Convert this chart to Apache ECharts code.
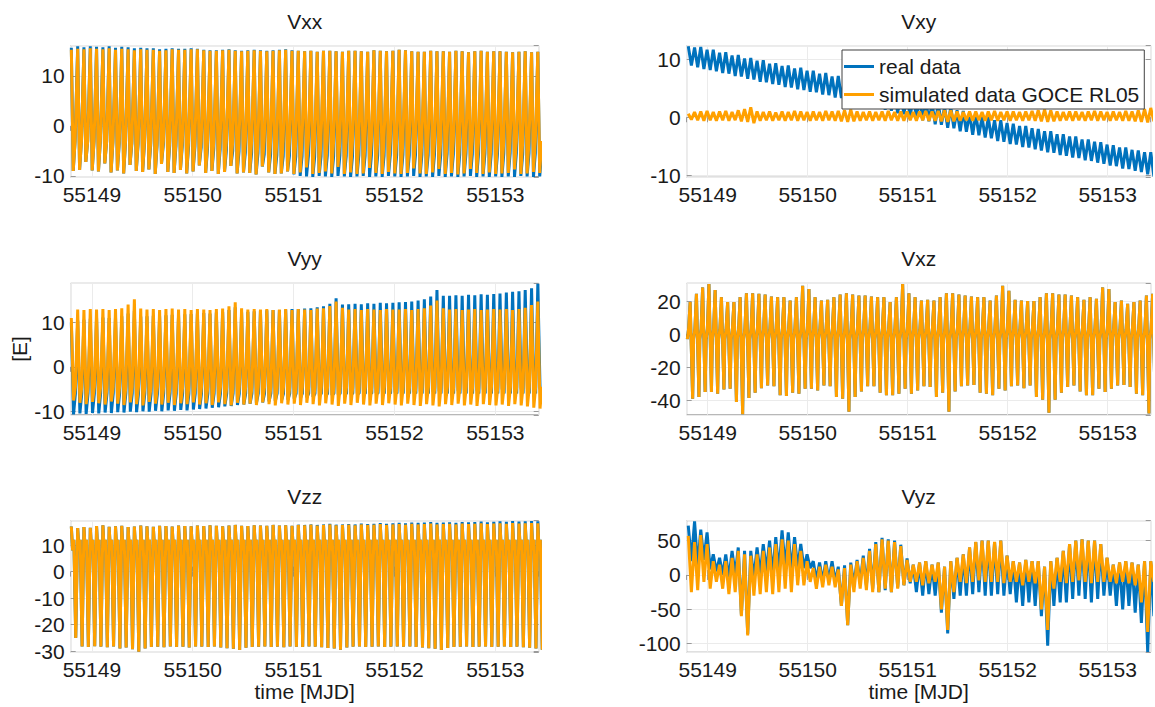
<!DOCTYPE html>
<html><head><meta charset="utf-8">
<script src="https://cdn.jsdelivr.net/npm/echarts@6/dist/echarts.min.js"></script>
<style>html,body{margin:0;padding:0;background:#fff}#c{width:1155px;height:707px}</style>
</head><body><div id="c"></div>
<script>
// ---- cycle start times (MJD), one GOCE orbit per cycle ----
const cycleT = [
 55148.790,55148.853,55148.915,55148.978,
 55149.040,55149.103,55149.165,55149.228,55149.290,55149.353,55149.415,55149.478,55149.540,55149.603,55149.665,55149.728,55149.790,55149.853,55149.915,55149.978,
 55150.040,55150.103,55150.165,55150.228,55150.290,55150.353,55150.415,55150.478,55150.540,55150.603,55150.665,55150.728,55150.790,55150.853,55150.915,55150.978,
 55151.040,55151.103,55151.165,55151.228,55151.290,55151.353,55151.415,55151.478,55151.540,55151.603,55151.665,55151.728,55151.790,55151.853,55151.915,55151.978,
 55152.040,55152.103,55152.165,55152.228,55152.290,55152.353,55152.415,55152.478,55152.540,55152.603,55152.665,55152.728,55152.790,55152.853,55152.915,55152.978,
 55153.040,55153.103,55153.165,55153.228,55153.290,55153.353,55153.415];
const PERIOD = 0.0625;

// ---- Vxx ----
const bxxHi = [15.6,15.9,15.7,15.9,
 15.8,15.7,15.9,15.6,15.8,15.7,15.5,15.6,15.5,15.5,15.3,15.4,15.5,15.4,15.4,15.5,
 15.4,15.2,15.1,15.1,15.2,15.3,15.1,15.0,15.1,15.2,15.1,15.0,15.1,15.2,15.3,15.1,
 15.0,14.9,15.0,14.8,15.0,15.0,14.9,14.8,15.0,15.0,14.9,14.8,15.1,15.0,14.9,15.0,
 15.2,15.1,14.9,14.8,14.8,15.0,14.9,14.9,14.8,15.0,14.9,14.7,14.9,15.0,14.8,14.9,
 14.9,14.8,14.7,14.8,14.9,14.7,14.8];
const bxxLo = [-9.0,-8.8,-7.2,-8.9,
 -9.1,-7.5,-9.3,-8.9,-9.5,-7.8,-9.0,-9.2,-8.7,-9.6,-7.6,-9.2,-9.4,-8.8,-9.5,-9.1,
 -7.9,-9.4,-9.0,-9.6,-9.2,-8.0,-9.5,-9.3,-9.4,-9.7,-8.1,-9.3,-9.6,-9.5,-9.1,-9.7,
 -10.0,-10.1,-10.2,-10.0,-10.1,-10.2,-10.0,-10.1,-10.2,-10.1,-10.0,-10.2,-10.1,-10.2,-10.0,-10.1,
 -10.2,-10.1,-10.0,-10.2,-10.1,-10.2,-10.0,-10.2,-10.1,-10.2,-10.1,-10.0,-10.2,-10.1,-10.2,-10.1,
 -10.2,-10.1,-10.2,-10.0,-10.1,-10.2,-10.1];
const bxxMid = [-3.0,-3.0,-3.0,-3.1,
 -3.2,-3.1,-3.3,-3.4,-3.3,-3.5,-3.6,-3.5,-3.7,-3.8,-3.7,-3.9,-4.0,-3.9,-4.1,-4.2,
 -4.3,-4.5,-4.6,-4.7,-4.9,-5.0,-5.1,-5.3,-5.4,-5.5,-5.7,-5.8,-5.9,-6.1,-6.0,-6.1,
 -6.1,-6.0,-6.2,-6.1,-6.0,-6.1,-5.9,-6.0,-6.1,-5.9,-6.0,-5.8,-5.9,-6.0,-5.8,-5.9,
 -5.8,-5.9,-5.7,-5.8,-5.9,-5.7,-5.8,-5.6,-5.7,-5.8,-5.6,-5.7,-5.5,-5.6,-5.7,-5.5,
 -5.6,-5.5,-5.4,-5.6,-5.5,-5.4,-5.5];
const oxxHi = [15.2,15.4,15.3,15.5,
 15.4,15.3,15.5,15.2,15.4,15.3,15.1,15.3,15.2,15.2,15.0,15.1,15.3,15.2,15.2,15.3,
 15.3,15.1,15.0,15.0,15.1,15.2,15.0,14.9,15.0,15.1,15.0,14.9,15.0,15.1,15.2,15.0,
 15.0,14.9,15.0,14.8,15.0,15.0,14.9,14.8,15.0,15.0,14.9,14.8,15.1,15.0,14.9,15.0,
 15.2,15.1,14.9,14.8,14.8,15.0,14.9,14.9,14.8,15.0,14.9,14.7,14.9,15.0,14.8,14.9,
 14.9,14.8,14.7,14.8,14.9,14.7,14.8];
const oxxLo = [-9.0,-8.8,-7.2,-8.9,
 -9.1,-7.5,-9.3,-8.9,-9.5,-7.8,-9.0,-9.2,-8.7,-9.6,-7.6,-9.2,-9.4,-8.8,-9.5,-9.1,
 -7.9,-9.4,-9.0,-9.6,-9.2,-8.0,-9.5,-9.3,-9.4,-9.7,-8.1,-9.3,-9.6,-9.5,-9.1,-9.6,
 -9.3,-8.3,-9.6,-9.4,-9.1,-9.5,-8.2,-9.6,-9.3,-9.6,-9.5,-8.4,-9.4,-9.6,-9.2,-9.5,
 -9.6,-9.4,-8.5,-9.5,-9.6,-9.3,-8.6,-9.6,-9.4,-9.7,-9.5,-8.6,-9.4,-9.6,-9.3,-9.6,
 -9.5,-9.4,-8.7,-9.6,-9.5,-9.2,-9.4];
const oxxMid = -3;

// ---- Vxy ----
const bxyHi = [12.2,12.0,12.1,11.6,
 11.6,11.1,11.2,10.6,10.7,10.1,10.2,9.7,9.8,9.2,9.3,8.8,8.9,8.4,8.5,8.0,
 8.0,7.5,7.6,7.0,7.1,6.6,6.6,6.1,6.1,5.5,5.5,4.9,4.9,4.3,4.3,3.7,
 3.7,3.1,3.1,2.4,2.4,1.8,1.8,1.2,1.1,0.6,0.6,0.0,0.0,-0.5,-0.5,-1.0,
 -1.1,-1.5,-1.5,-1.9,-2.0,-2.4,-2.4,-2.9,-2.9,-3.3,-3.3,-3.8,-3.8,-4.2,-4.3,-4.7,
 -4.8,-5.2,-5.2,-5.6,-5.7,-6.0,-6.0];
const bxyLo = [8.9,8.6,8.3,8.1,
 7.9,7.6,7.5,7.1,7.0,6.6,6.5,6.1,6.0,5.7,5.6,5.2,5.1,4.8,4.7,4.4,
 4.3,3.9,3.8,3.4,3.3,2.9,2.8,2.4,2.3,1.9,1.7,1.3,1.1,0.7,0.5,0.1,
 -0.1,-0.5,-0.7,-1.2,-1.3,-1.8,-1.9,-2.4,-2.5,-3.0,-3.1,-3.5,-3.6,-4.1,-4.2,-4.6,
 -4.7,-5.1,-5.2,-5.5,-5.7,-6.0,-6.1,-6.5,-6.6,-6.9,-7.0,-7.4,-7.5,-7.8,-8.0,-8.3,
 -8.4,-8.8,-8.9,-9.2,-9.4,-9.8,-10.2];
const oxyHi = [0.6,0.9,1.0,1.1,
 0.9,1.0,1.1,0.9,1.2,1.4,1.7,1.0,0.9,1.0,0.8,1.0,0.9,1.1,1.0,0.9,
 1.0,0.9,1.1,1.0,1.1,1.2,1.3,1.0,0.9,1.0,0.9,1.0,1.1,0.9,1.0,1.0,
 0.9,1.0,1.1,1.0,1.1,1.2,1.2,1.0,0.9,1.0,1.0,0.9,1.0,1.1,0.9,1.0,
 1.0,0.9,1.0,1.1,1.2,1.3,1.2,1.0,0.9,1.0,1.0,0.9,1.0,1.1,1.0,0.9,
 1.0,0.9,1.1,1.0,1.2,1.4,1.6];
const oxyLo = [-0.4,-0.5,-0.6,-0.5,
 -0.6,-0.5,-0.6,-0.5,-0.7,-0.8,-1.0,-0.6,-0.5,-0.6,-0.5,-0.6,-0.5,-0.6,-0.5,-0.6,
 -0.5,-0.6,-0.5,-0.6,-0.7,-0.8,-0.7,-0.6,-0.5,-0.6,-0.5,-0.6,-0.5,-0.6,-0.6,-0.5,
 -0.6,-0.5,-0.6,-0.6,-0.7,-0.8,-0.7,-0.6,-0.5,-0.6,-0.5,-0.6,-0.5,-0.6,-0.5,-0.6,
 -0.5,-0.6,-0.5,-0.6,-0.7,-0.8,-0.7,-0.6,-0.5,-0.6,-0.5,-0.6,-0.5,-0.6,-0.5,-0.6,
 -0.5,-0.6,-0.6,-0.7,-0.8,-0.9,-0.7];

// ---- Vyy ----
const byyHi = [10.0,10.4,10.6,10.8,
 11.0,11.1,11.0,11.2,11.4,12.0,12.6,11.3,11.4,11.5,11.4,11.6,11.7,11.6,11.8,11.9,
 12.0,12.1,12.0,12.2,12.4,12.8,13.4,12.3,12.4,12.5,12.6,12.7,12.8,12.8,12.9,13.0,
 13.0,13.1,13.2,13.4,13.6,14.2,15.4,14.0,14.1,14.2,14.1,14.3,14.2,14.4,14.3,14.4,
 14.5,14.6,14.7,14.9,15.2,15.8,17.3,16.0,16.0,16.1,16.0,16.2,16.1,16.3,16.2,16.4,
 16.5,16.7,16.9,17.0,17.3,17.7,18.7];
const byyLo = [-10.7,-10.5,-10.6,-10.4,
 -10.5,-10.3,-10.4,-10.2,-10.3,-10.1,-10.2,-10.0,-10.1,-9.9,-10.0,-9.8,-9.9,-9.7,-9.8,-9.6,
 -9.5,-9.4,-9.2,-9.1,-8.9,-8.8,-8.6,-8.5,-8.3,-8.2,-8.0,-7.8,-7.7,-7.5,-7.4,-7.2,
 -7.0,-6.9,-6.8,-6.6,-6.5,-6.4,-6.3,-6.2,-6.1,-6.0,-6.0,-5.9,-5.9,-5.8,-5.8,-5.7,
 -5.7,-5.6,-5.6,-5.5,-5.5,-5.4,-5.4,-5.3,-5.3,-5.3,-5.2,-5.2,-5.2,-5.1,-5.1,-5.1,
 -5.0,-5.0,-5.0,-4.9,-4.9,-4.8,-4.8];
const byyMid = -6;
const oyyHi = [11.0,12.9,12.8,13.0,
 12.9,13.0,12.8,13.0,13.2,14.0,15.2,13.1,12.9,13.0,12.8,13.0,13.1,12.9,13.0,12.8,
 13.0,12.9,12.8,13.0,13.1,13.6,14.5,13.2,12.9,13.0,12.9,13.0,12.8,12.9,13.0,12.8,
 13.0,12.9,12.8,13.1,13.2,13.7,14.7,13.3,12.9,13.0,12.8,13.0,12.9,12.8,13.0,12.9,
 12.9,13.0,12.8,13.0,13.2,13.8,14.9,13.2,12.9,13.0,12.8,12.9,13.0,12.8,12.9,13.0,
 12.9,13.0,12.8,13.0,13.3,13.9,14.7];
const oyyLo = [-7.6,-8.1,-8.4,-7.9,
 -8.2,-8.5,-7.8,-8.3,-8.6,-8.0,-8.4,-8.7,-7.9,-8.3,-8.5,-8.1,-8.6,-8.2,-8.4,-8.0,
 -8.5,-8.2,-8.6,-8.0,-8.4,-8.7,-8.1,-8.5,-8.3,-8.6,-8.0,-8.4,-8.7,-8.2,-8.5,-8.3,
 -8.6,-8.1,-8.4,-8.7,-8.2,-8.5,-8.8,-8.3,-8.6,-8.1,-8.5,-8.7,-8.3,-8.6,-8.2,-8.5,
 -8.7,-8.3,-8.6,-8.8,-8.4,-8.7,-8.9,-8.4,-8.6,-8.3,-8.7,-8.5,-8.8,-8.4,-8.6,-8.7,
 -8.5,-8.8,-8.4,-8.7,-8.9,-9.2,-9.4];
const oyyMid = -4.5;

// ---- Vxz (real data lies under the simulated curve) ----
const oxzHi = [19.4,24.4,28.3,30.3,26.7,22.4,19.4,19.4,22.4,24.8,24.8,24.4,24.0,22.8,22.4,22.4,20.4,22.4,29.3,27.3,
 22.4,20.4,20.8,22.4,24.0,24.8,24.0,23.4,23.4,22.8,22.4,22.4,19.4,22.4,30.3,24.8,22.4,20.4,20.8,20.4,
 22.4,24.8,24.8,24.0,23.4,22.8,22.4,22.4,20.4,23.4,29.3,26.3,20.8,20.4,20.0,20.0,22.4,24.8,24.8,24.0,
 24.0,23.4,22.4,20.8,22.4,21.4,28.3,27.3,19.4,20.4,18.4,19.4,20.4,23.4,24.4];
const oxzLo = [-39,-38,-35,-35,-36,-33.5,-33,-41,-48.5,-38.6,-35.4,-32.7,-31,-31.5,-37,-37.4,-35.4,-36,-33,-33,
 -34,-31,-31.5,-38,-39,-47,-38,-34.7,-31.5,-31.5,-35.4,-37,-37,-36,-33,-36,-34,-31.5,-32,-38,
 -35.4,-47,-34.7,-31.5,-31,-30.7,-35.4,-36,-37,-33,-34,-31.5,-31,-32.7,-31,-38,-39.6,-47.5,-39.6,-35.4,
 -32,-31,-34.7,-37,-37,-33,-35,-33,-31,-30.7,-32,-36,-37,-48,-40];
const xzNeg = -3, xzPos = 3;

// ---- Vzz ----
const bzzHi = [17.0,16.4,16.8,16.5,
 17.2,17.5,16.9,17.1,17.3,16.8,17.0,17.4,17.1,16.9,17.3,17.2,17.0,17.4,17.2,17.1,
 17.4,17.2,17.5,17.3,17.1,17.4,17.6,17.3,17.2,17.5,17.4,17.3,17.6,17.4,17.5,17.3,
 17.7,17.6,17.8,17.6,17.8,18.0,17.7,17.8,17.9,17.8,18.1,17.9,18.0,18.3,18.0,18.2,
 18.4,18.2,18.5,18.4,18.5,18.7,18.4,18.5,18.6,18.4,18.7,18.6,18.7,18.9,18.6,18.8,
 19.0,18.8,19.1,18.9,19.0,19.1,19.0];
const ozzHi = [17.0,16.4,16.8,16.5,
 17.2,17.5,16.9,17.1,17.3,16.8,17.0,17.4,17.1,16.9,17.3,17.2,17.0,17.4,17.2,17.1,
 17.4,17.2,17.5,17.3,17.1,17.4,17.6,17.3,17.2,17.5,17.4,17.3,17.6,17.4,17.5,17.3,
 17.6,17.5,17.7,17.4,17.6,17.8,17.5,17.6,17.7,17.5,17.8,17.6,17.7,17.9,17.6,17.8,
 17.9,17.7,18.0,17.8,17.9,18.1,17.8,17.9,18.0,17.8,18.1,17.9,18.0,18.2,17.9,18.1,
 18.2,18.0,18.3,18.1,18.2,18.3,18.2];
const ozzLo = [-25.0,-28.2,-28.4,-28.1,
 -28.3,-28.5,-28.2,-29.0,-28.6,-29.3,-30.2,-29.0,-28.4,-28.3,-28.5,-28.2,-28.4,-28.3,-28.6,-28.2,
 -28.3,-28.4,-28.2,-28.6,-28.9,-29.1,-29.6,-28.7,-28.4,-28.3,-28.2,-28.4,-28.3,-28.5,-28.2,-28.3,
 -28.4,-28.2,-28.3,-28.5,-28.8,-29.0,-29.5,-28.6,-28.3,-28.2,-28.4,-28.3,-28.2,-28.4,-28.3,-28.2,
 -28.3,-28.2,-28.4,-28.6,-28.9,-29.1,-29.6,-28.8,-28.4,-28.3,-28.2,-28.4,-28.3,-28.2,-28.4,-28.3,
 -28.2,-28.4,-28.3,-28.5,-28.7,-29.0,-29.5];
const zzLow = 8, zzNotch = 12;

// ---- Vyz ----
const byzHi = [72,78,66,62,
 30,25,30,35,40,35,35,40,45,50,55,65,62,55,45,30,
 20,18,20,20,12,14,18,22,28,38,48,54,52,50,44,24,
 15,18,20,15,18,12,20,25,30,40,48,50,50,48,50,28,
 20,18,22,20,20,12,20,25,35,45,50,52,50,50,45,25,
 15,18,20,18,15,20,20];
const byzLo = [20,12,22,8,
 5,0,-5,0,-58,-86,-5,0,5,0,5,10,5,10,10,10,
 -8,-10,-8,-10,-45,-73,-15,-12,-15,-20,-25,-22,-25,-18,-15,-12,
 -25,-30,-28,-30,-55,-85,-35,-30,-30,-28,-25,-30,-30,-28,-30,-28,
 -40,-45,-40,-45,-60,-103,-45,-40,-40,-35,-30,-35,-40,-35,-30,-30,
 -45,-50,-45,-55,-70,-112,-60];
const oyzHi = [57,48,58,45,
 20,15,20,25,35,30,28,30,35,40,45,52,50,45,35,20,
 10,12,15,12,8,10,15,20,25,35,45,52,50,48,42,22,
 15,18,20,15,18,12,20,25,30,40,48,50,50,48,50,28,
 20,18,22,20,20,12,20,25,35,45,50,52,50,50,45,25,
 15,18,20,18,15,20,20];
const oyzLo = [-25,-22,-10,-20,
 -10,-20,-28,-25,-60,-88,-30,-28,-25,-28,-25,-20,-25,-15,-15,-10,
 -20,-18,-15,-18,-45,-73,-25,-20,-22,-25,-25,-20,-25,-20,-15,-10,
 -10,-15,-12,-10,-50,-80,-25,-10,-12,-10,-8,-10,-10,-10,-12,-10,
 -10,-15,-10,-12,-50,-80,-20,-10,-12,-10,-8,-10,-12,-10,-10,-10,
 -12,-10,-12,-15,-40,-83,-10];

// ---- build polylines through each orbit from the read extrema ----
function build(shape, src) {
  const out = [];
  for (let i = 0; i < cycleT.length; i++) {
    for (const [ph, key] of shape) {
      const v = src[key];
      out.push([cycleT[i] + ph * PERIOD, Array.isArray(v) ? v[i] : v]);
    }
  }
  return out;
}
const shpXX = [[0.1,'hi'],[0.4,'lo'],[0.7,'mid']];
const shp2 = [[0.25,'hi'],[0.75,'lo']];
const shpYY = [[0.1,'hi'],[0.45,'lo'],[0.75,'mid']];
const shpXZ = [[0.1,'a'],[0.3,'b'],[0.55,'hi'],[0.95,'lo']];
const shpZZ = [[0.1,'hi'],[0.3,'a'],[0.5,'b'],[0.8,'lo']];

const panels = [
  {t:'Vxx', c:0, r:0, ymin:-10.25, ymax:16, yi:10,
   b: build(shpXX,{hi:bxxHi,lo:bxxLo,mid:bxxMid}), o: build(shpXX,{hi:oxxHi,lo:oxxLo,mid:oxxMid})},
  {t:'Vxy', c:1, r:0, ymin:-10.3, ymax:12.3, yi:10,
   b: build(shp2,{hi:bxyHi,lo:bxyLo}), o: build(shp2,{hi:oxyHi,lo:oxyLo})},
  {t:'Vyy', c:0, r:1, ymin:-10.8, ymax:18.8, yi:10,
   b: build(shpYY,{hi:byyHi,lo:byyLo,mid:byyMid}), o: build(shpYY,{hi:oyyHi,lo:oyyLo,mid:oyyMid})},
  {t:'Vxz', c:1, r:1, ymin:-48.8, ymax:30.8, yi:20,
   b: build(shpXZ,{hi:oxzHi,lo:oxzLo,a:xzNeg,b:xzPos}), o: build(shpXZ,{hi:oxzHi,lo:oxzLo,a:xzNeg,b:xzPos})},
  {t:'Vzz', c:0, r:2, ymin:-30.4, ymax:19.2, yi:10,
   b: build(shpZZ,{hi:bzzHi,lo:ozzLo,a:zzLow,b:zzNotch}), o: build(shpZZ,{hi:ozzHi,lo:ozzLo,a:zzLow,b:zzNotch})},
  {t:'Vyz', c:1, r:2, ymin:-112.5, ymax:79, yi:50,
   b: build(shp2,{hi:byzHi,lo:byzLo}), o: build(shp2,{hi:oyzHi,lo:oyzLo})}
];

const FONT = 'Liberation Sans, Arial, Helvetica, sans-serif';
const TXT = '#1a1a1a';
const BOX = '#9a9a9a';
const BLUE = '#0072BD', ORANGE = '#FFA000';
const LW = 3;
const colL = [70.7, 686.7], colW = [468, 464], rowT = [45.7, 283.3, 520.7], H = 131.5;
const XMIN = 55148.79, XMAX = 55153.43;

const grid = [], xAxis = [], yAxis = [], series = [], title = [];
panels.forEach((p, k) => {
  const left = colL[p.c], top = rowT[p.r], w = colW[p.c];
  grid.push({left, top, width: w, height: H, show: true, borderColor: BOX, borderWidth: 1,
             containLabel: false, outerBoundsMode: 'none'});
  const xBase = {type:'value', gridIndex:k, min:XMIN, max:XMAX, minInterval:1, maxInterval:1};
  xAxis.push(Object.assign({}, xBase, {position:'bottom',
    axisLine:{show:false}, axisTick:{inside:true, length:5, lineStyle:{color:BOX}},
    axisLabel:{showMinLabel:false, showMaxLabel:false, margin:7, fontSize:21, color:TXT, fontFamily:FONT,
               formatter: v => String(Math.round(v))},
    splitLine:{show:true, lineStyle:{color:'#ebebeb', width:1}},
    name: p.r === 2 ? 'time [MJD]' : '', nameLocation:'middle', nameGap:26,
    nameTextStyle:{fontSize:21, color:TXT, fontFamily:FONT}}));
  xAxis.push(Object.assign({}, xBase, {position:'top',
    axisLine:{show:false}, axisTick:{inside:true, length:5, lineStyle:{color:BOX}},
    axisLabel:{show:false}, splitLine:{show:false}}));
  const yBase = {type:'value', gridIndex:k, min:p.ymin, max:p.ymax, minInterval:p.yi, maxInterval:p.yi};
  yAxis.push(Object.assign({}, yBase, {position:'left',
    axisLine:{show:false}, axisTick:{inside:true, length:5, lineStyle:{color:BOX}},
    axisLabel:{showMinLabel:false, showMaxLabel:false, margin:6, fontSize:21, color:TXT, fontFamily:FONT,
               formatter: v => String(Math.round(v))},
    splitLine:{show:true, lineStyle:{color:'#ebebeb', width:1}}}));
  yAxis.push(Object.assign({}, yBase, {position:'right',
    axisLine:{show:false}, axisTick:{inside:true, length:5, lineStyle:{color:BOX}},
    axisLabel:{show:false}, splitLine:{show:false}}));
  const common = {type:'line', xAxisIndex:2*k, yAxisIndex:2*k, showSymbol:false, symbol:'none',
                  clip:true, animation:false, silent:true};
  series.push(Object.assign({}, common, {name:'real data', data:p.b, color:BLUE,
                 lineStyle:{color:BLUE, width:LW}, z:2}));
  series.push(Object.assign({}, common, {name:'simulated data GOCE RL05', data:p.o, color:ORANGE,
                 lineStyle:{color:ORANGE, width:LW}, z:3}));
  title.push({text:p.t, left: left + w/2, top: top - 35, textAlign:'center', padding:0,
              textStyle:{fontSize:21, fontWeight:'normal', color:TXT, fontFamily:FONT}});
});

const chart = echarts.init(document.getElementById('c'), null, {renderer:'svg'});
chart.setOption({
  animation:false,
  backgroundColor:'#ffffff',
  textStyle:{fontFamily:FONT},
  title, grid, xAxis, yAxis, series,
  legend:{data:['real data','simulated data GOCE RL05'], orient:'vertical', left:842, top:50,
          icon:'rect', itemWidth:30, itemHeight:3, itemGap:7, padding:[6,5,4,2],
          backgroundColor:'#ffffff', borderColor:'#404040', borderWidth:1, borderRadius:0,
          selectedMode:false, z:10,
          textStyle:{fontSize:21, color:TXT, fontFamily:FONT}},
  graphic:[{type:'text', x:19, y:349, rotation:Math.PI/2,
            style:{text:'[E]', fill:TXT, font:'21px ' + FONT, align:'center', verticalAlign:'middle'}}]
});
</script>
</body></html>
